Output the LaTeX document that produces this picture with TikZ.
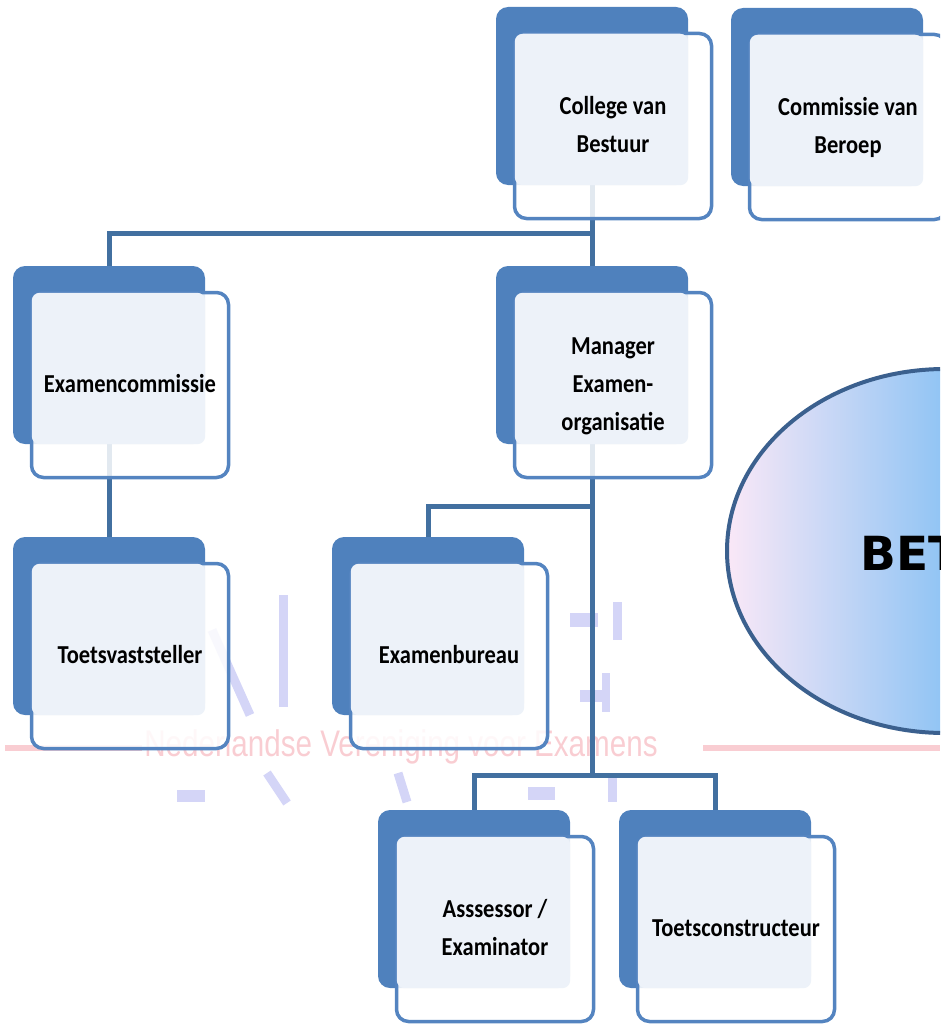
\documentclass[tikz,border=0pt]{standalone}
\usepackage{fontspec}
\usepackage{graphicx}
\usepackage{tikz}
\usetikzlibrary{calc}
\usetikzlibrary{shapes.geometric}
\usetikzlibrary{backgrounds}
\newfontfamily\calfont{Carlito}
\newfontfamily\arialfont{Liberation Sans}
\newfontfamily\dvfont{DejaVu Sans}
\definecolor{boxblue}{RGB}{79,129,189}
\definecolor{edgeblue}{RGB}{84,132,192}
\definecolor{linkblue}{RGB}{66,112,160}
\definecolor{paleblue}{RGB}{237,242,249}
\definecolor{ovalpink}{RGB}{250,232,247}
\definecolor{ovalblue}{RGB}{144,196,244}
\definecolor{ovaledge}{RGB}{59,96,142}
\definecolor{markpink}{RGB}{249,205,210}
\definecolor{marklilac}{RGB}{212,213,247}
\tikzset{
 backbox/.style={fill=boxblue, rounded corners=12pt, minimum width=192pt, minimum height=178pt, inner sep=0pt},
 frontbox/.style={draw=edgeblue, line width=3.5pt, fill=white, fill opacity=.85, rounded corners=12pt, minimum width=197pt, minimum height=185pt, inner sep=0pt},
 lbl/.style={inner sep=0pt, font=\calfont\bfseries\fontsize{22.5}{33}\selectfont},
 link/.style={draw=linkblue, line width=5pt},
 logostroke/.style={marklilac, line width=9pt}
}
\newcommand{\boxlbl}[1]{\scalebox{1}[1.15]{\begin{tabular}{@{}c@{}}#1\end{tabular}}}
\newcommand{\orgunit}[4]{
 \node[backbox] (#2b) at (#3-21,#4-30) {};
 \node[frontbox] (#2) at (#3,#4) {};
 \fill[paleblue, rounded corners=8pt] ($(#2.north west)+(2,2)$) rectangle (#2b.south east);
 \node[lbl] (#2t) at (#2) {\boxlbl{#1}};
}

\begin{document}
\begin{tikzpicture}[x=1pt, y=-1pt]
\useasboundingbox (0,0) rectangle (940,1025);
\clip (0,0) rectangle (940,1025);
\orgunit{College van\\Bestuur}{cvb}{613}{126}
\orgunit{Commissie van\\Beroep}{cvbr}{848}{127}
\orgunit{Examencommissie}{ec}{130}{385}
\orgunit{Manager\\Examen-\\organisatie}{meo}{613}{385}
\orgunit{Toetsvaststeller}{tvs}{130}{656}
\orgunit{Examenbureau}{eb}{449}{656}
\orgunit{Asssessor /\\Examinator}{as}{495}{929}
\orgunit{Toetsconstructeur}{tc}{736}{929}

\coordinate (j1) at (592,233);
\coordinate (j2) at (592,506);
\coordinate (j3) at (592,775);
\begin{scope}[on background layer]
\foreach \a/\b/\c/\d in {279/595/288/707, 177/790/205/802, 528/787/555/800, 570/613/598/627,
  613/602/622/640, 580/690/602/702, 602/673/610/712, 608/773/617/802}
 \fill[marklilac] (\a,\b) rectangle (\c,\d);
\draw[logostroke] (212,630) -- (250,715);
\draw[logostroke] (267,773) -- (287,803);
\draw[logostroke] (398,773) -- (407,802);
\node[text=markpink, inner sep=0pt, font=\arialfont\fontsize{37}{37}\selectfont] (nve) at (401,747)
 {\scalebox{0.8}[1]{Nederlandse Vereniging voor Examens}};
\draw[markpink, line width=6pt] (5,748) -- (142,748);
\draw[markpink, line width=6pt] (703,748) -- (940,748);
\draw[link] (cvbb.south) -- (meob.north);
\draw[link] (ecb.north) |- (j1);
\draw[link] (ecb.south) -- (tvsb.north);
\draw[link] (meob.south) -- (j3);
\draw[link] (ebb.north) |- (j2);
\draw[link] (asb.north) |- (j3) -| (tcb.north);
\end{scope}

\node[ellipse, draw=ovaledge, line width=4pt, left color=ovalpink, right color=ovalblue, middle color=ovalblue,
 minimum width=436pt, minimum height=364pt] (oval) at (945,551) {};
\node[anchor=base west, inner sep=0pt, font=\dvfont\bfseries\fontsize{47}{47}\selectfont] (bet) at (860,570) {BET};
\end{tikzpicture}
\end{document}
